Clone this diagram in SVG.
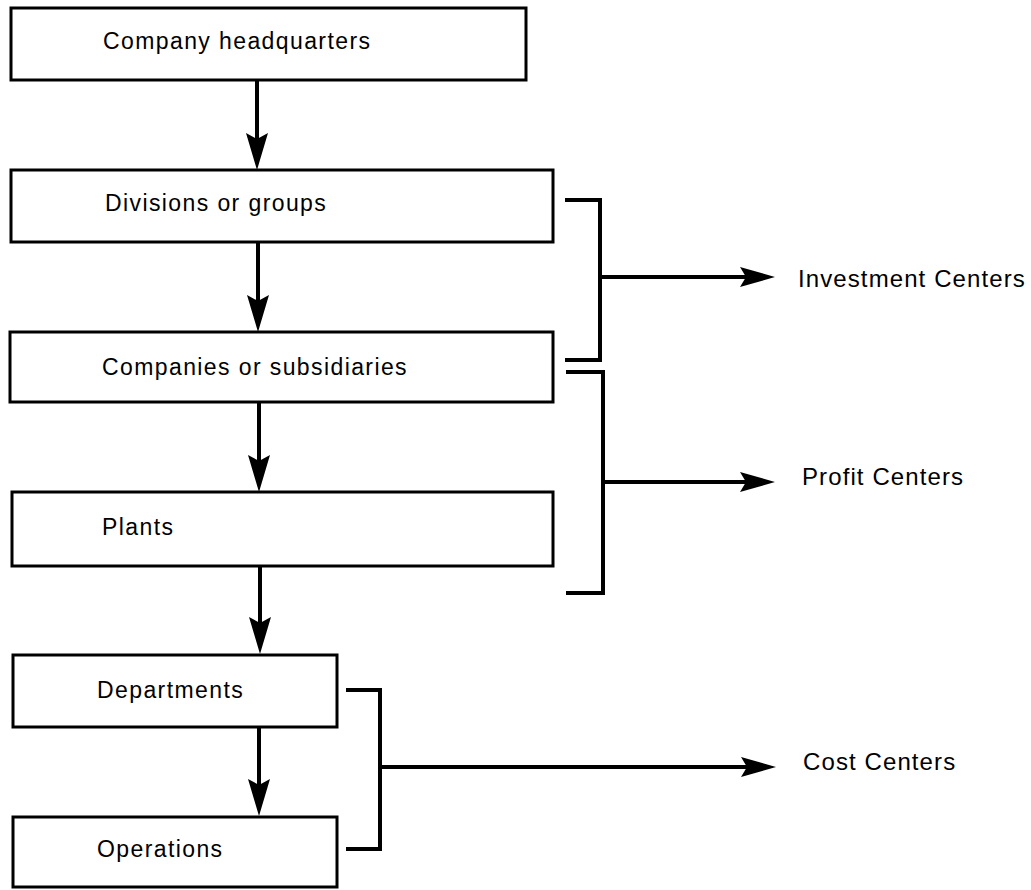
<svg xmlns="http://www.w3.org/2000/svg" width="1031" height="890" viewBox="0 0 1031 890">
  <style>
    .box { fill: #ffffff; stroke: #000000; stroke-width: 3; }
    .lbl { font-family: "Liberation Sans", Arial, sans-serif; font-size: 23px; letter-spacing: 1.4px; fill: #000000; }
    .side { font-family: "Liberation Sans", Arial, sans-serif; font-size: 24px; letter-spacing: 1.1px; fill: #000000; }
    .wire { fill: none; stroke: #000000; stroke-width: 4; stroke-linecap: butt; stroke-linejoin: miter; }
    .stem { fill: none; stroke: #000000; stroke-width: 4; }
  </style>
  <defs>
    <!-- notched arrowhead, tip at 0,0; line ends 20px before the tip -->
    <marker id="headV" viewBox="-38 -12 40 24" refX="-20" refY="0" markerUnits="userSpaceOnUse" markerWidth="40" markerHeight="24" orient="auto">
      <path d="M0,0 L-37,-11 L-31,0 L-37,11 Z" fill="#000000"/>
    </marker>
    <marker id="headH" viewBox="-38 -12 40 24" refX="-20" refY="0" markerUnits="userSpaceOnUse" markerWidth="40" markerHeight="24" orient="auto">
      <path d="M0,0 L-35,-10 L-29,0 L-35,10 Z" fill="#000000"/>
    </marker>
  </defs>

  <rect width="1031" height="890" fill="#ffffff"/>

  <!-- hierarchy boxes -->
  <g id="hq">
    <rect class="box" x="11" y="8" width="515" height="72"/>
    <text class="lbl" x="103" y="49">Company headquarters</text>
  </g>
  <g id="divisions">
    <rect class="box" x="11" y="170" width="542" height="72"/>
    <text class="lbl" x="105" y="211">Divisions or groups</text>
  </g>
  <g id="companies">
    <rect class="box" x="10" y="332" width="543" height="70"/>
    <text class="lbl" x="102" y="375">Companies or subsidiaries</text>
  </g>
  <g id="plants">
    <rect class="box" x="12" y="492" width="541" height="74"/>
    <text class="lbl" x="102" y="535">Plants</text>
  </g>
  <g id="departments">
    <rect class="box" x="13" y="655" width="324" height="72"/>
    <text class="lbl" x="97" y="698">Departments</text>
  </g>
  <g id="operations">
    <rect class="box" x="13" y="817" width="324" height="70"/>
    <text class="lbl" x="97" y="857">Operations</text>
  </g>

  <!-- responsibility centre labels -->
  <g id="investment-centers">
    <text class="side" x="798" y="287">Investment Centers</text>
  </g>
  <g id="profit-centers">
    <text class="side" x="802" y="485">Profit Centers</text>
  </g>
  <g id="cost-centers">
    <text class="side" x="803" y="770">Cost Centers</text>
  </g>

  <g id="connectors">
    <!-- downward links between levels -->
    <line class="stem" x1="257" y1="80" x2="257" y2="150" marker-end="url(#headV)"/>
    <line class="stem" x1="258" y1="242" x2="258" y2="312" marker-end="url(#headV)"/>
    <line class="stem" x1="259" y1="402" x2="259" y2="472" marker-end="url(#headV)"/>
    <line class="stem" x1="260" y1="566" x2="260" y2="634" marker-end="url(#headV)"/>
    <line class="stem" x1="259" y1="727" x2="259" y2="796" marker-end="url(#headV)"/>

    <!-- investment bracket -->
    <path class="wire" d="M565,200 H600 V360 H565"/>
    <line class="wire" x1="600" y1="277" x2="755" y2="277" marker-end="url(#headH)"/>

    <!-- profit bracket -->
    <path class="wire" d="M566,372 H603 V593 H566"/>
    <line class="wire" x1="603" y1="482" x2="755" y2="482" marker-end="url(#headH)"/>

    <!-- cost bracket -->
    <path class="wire" d="M346,690 H380 V849 H346"/>
    <line class="wire" x1="380" y1="767" x2="756" y2="767" marker-end="url(#headH)"/>
  </g>
</svg>
